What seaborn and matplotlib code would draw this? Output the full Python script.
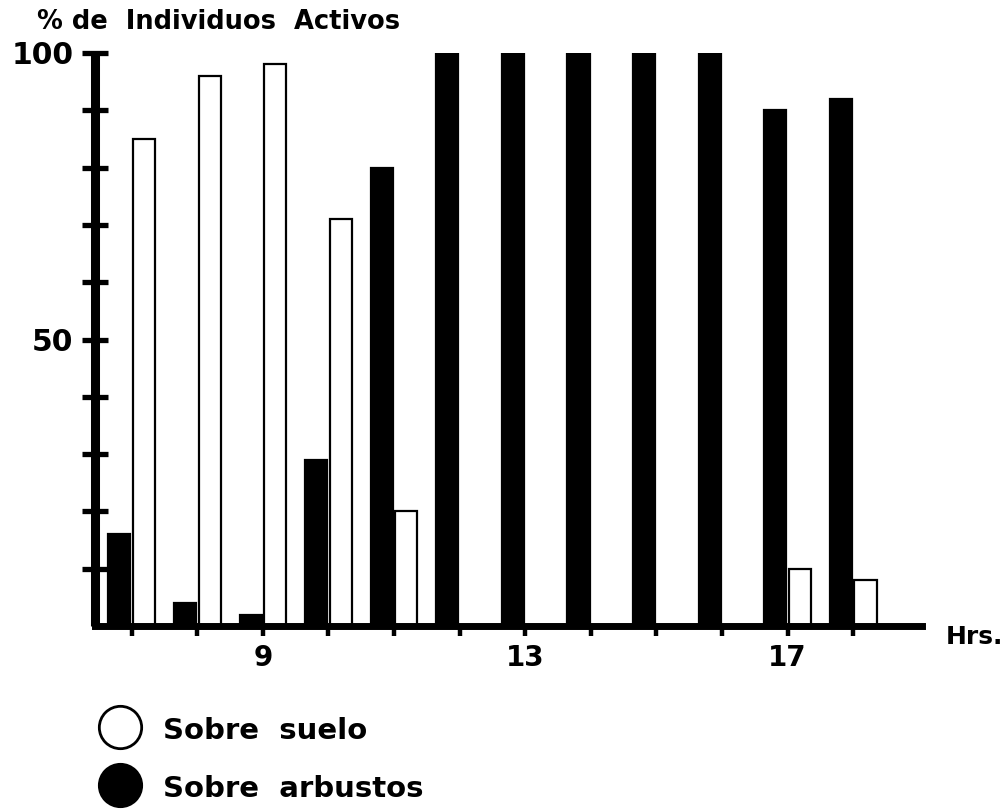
import matplotlib
matplotlib.use("Agg")
import matplotlib.pyplot as plt
from matplotlib.lines import Line2D
import seaborn as sns
import pandas as pd

# ---- data ----
hours = [7, 8, 9, 10, 11, 12, 13, 14, 15, 16, 17, 18]
sobre_suelo = [85, 96, 98, 71, 20, 0, 0, 0, 0, 0, 10, 8]
sobre_arbustos = [16, 4, 2, 29, 80, 100, 100, 100, 100, 100, 90, 92]
x_tick_labels = ["", "", "9", "", "", "", "13", "", "", "", "17", ""]
y_ticks = [10, 20, 30, 40, 50, 60, 70, 80, 90, 100]
y_tick_labels = ["", "", "", "", "50", "", "", "", "", "100"]
series_names = ["Sobre arbustos", "Sobre suelo"]
legend_labels = ["Sobre  suelo", "Sobre  arbustos"]

df = pd.DataFrame({
    "hora": hours * 2,
    "valor": sobre_arbustos + sobre_suelo,
    "serie": [series_names[0]] * len(hours) + [series_names[1]] * len(hours),
})

sns.set_style("white")
plt.rcParams["font.family"] = ["DejaVu Sans"]
plt.rcParams["font.weight"] = "bold"
plt.rcParams["text.color"] = "black"
plt.rcParams["xtick.color"] = "black"
plt.rcParams["ytick.color"] = "black"
plt.rcParams["axes.edgecolor"] = "black"

fig = plt.figure(figsize=(10.07, 8.10), dpi=100)
ax = fig.add_axes([95 / 1007, 1 - 626 / 810, (922 - 95) / 1007, (626 - 53) / 810])

sns.barplot(data=df, x="hora", y="valor", hue="serie", hue_order=series_names,
            palette=["black", "white"], edgecolor="black", linewidth=1.6,
            width=0.75, gap=0.1, ax=ax, legend=False)

ax.set_xlim(-0.56, 12.05)
ax.set_ylim(0, 100)
ax.set_xlabel("")
ax.set_ylabel("")

for s in ["top", "right"]:
    ax.spines[s].set_visible(False)
ax.spines["left"].set_linewidth(6.5)
ax.spines["left"].set_bounds(0, 100)
ax.spines["bottom"].set_linewidth(5)
ax.spines["left"].set_capstyle("butt")

ax.set_yticks(y_ticks)
ax.set_yticklabels(y_tick_labels, fontsize=21.5, fontweight="bold")
ax.tick_params(axis="y", direction="inout", length=19, width=3.8, pad=6, left=True,
               colors="black")

ax.set_xticks(range(len(hours)))
ax.set_xticklabels(x_tick_labels, fontsize=20, fontweight="bold")
ax.tick_params(axis="x", direction="out", length=7, width=3.2, pad=6, bottom=True,
               colors="black")

fig.text(37 / 1007, 1 - 22 / 810, "% de  Individuos  Activos", fontsize=18.5,
         fontweight="bold", va="center", ha="left")
fig.text(946 / 1007, 1 - 637 / 810, "Hrs.", fontsize=18, fontweight="bold",
         va="center", ha="left")

# legend, drawn as figure artists
legend_faces = ["white", "black"]
legend_y = [727, 785]
for face, label, yy in zip(legend_faces, legend_labels, legend_y):
    fig.add_artist(Line2D([120 / 1007], [1 - yy / 810], transform=fig.transFigure,
                          marker="o", linestyle="none", markersize=30.5,
                          markerfacecolor=face, markeredgecolor="black",
                          markeredgewidth=2.0))
    fig.text(163 / 1007, 1 - (yy + 4) / 810, label, fontsize=21, fontweight="bold",
             va="center", ha="left")

fig.savefig("out.png", dpi=100)
